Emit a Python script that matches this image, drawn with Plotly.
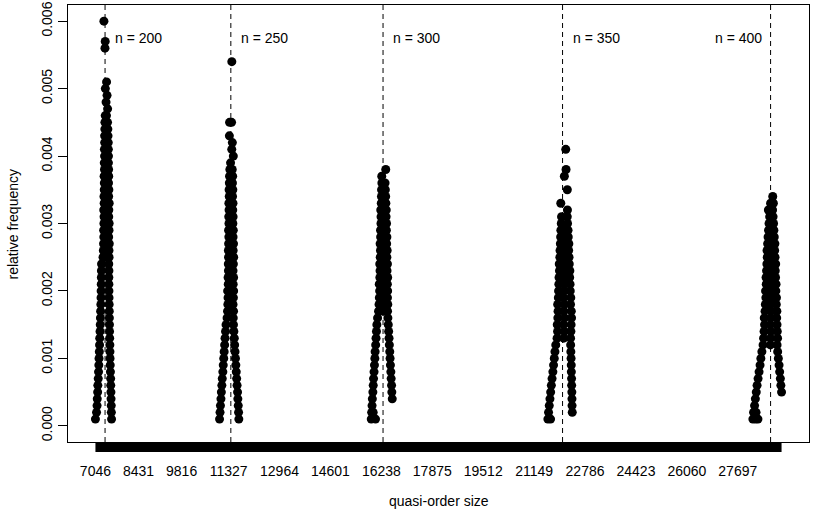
import plotly.graph_objects as go

# ---------------- data ----------------
N_SAMPLES = 10000  # relative frequency = count / N_SAMPLES

x_tick_labels = [7046, 8431, 9816, 11327, 12964, 14601, 16238, 17875,
                 19512, 21149, 22786, 24423, 26060, 27697]
y_tick_vals = [0.000, 0.001, 0.002, 0.003, 0.004, 0.005, 0.006]
y_tick_text = ["0.000", "0.001", "0.002", "0.003", "0.004", "0.005", "0.006"]

n_values = [200, 250, 300, 350, 400]
n_line_sizes = [7355, 11399, 16292, 22063, 28751]
label_freq = 0.00575

# ---- n = 200 ----
c200 = [1, 2, 3, 4, 5, 6, 7, 8, 9, 10, 11, 12, 13, 14, 15, 16, 17, 18, 19, 20,
        21, 22, 23, 24, 25, 26, 27, 28, 29, 30, 31, 32, 33, 34, 35, 36, 37, 38,
        39, 40, 41, 42, 43, 44, 45, 46]
l200 = [7046, 7081, 7098, 7104, 7117, 7123, 7136, 7146, 7155, 7162,
        7171, 7178, 7184, 7194, 7201, 7207, 7213, 7220, 7226, 7229,
        7233, 7236, 7238, 7242, 7290, 7300, 7307, 7316, 7310, 7319,
        7323, 7313, 7326, 7321, 7329, 7332, 7325, 7336, 7330, 7339,
        7334, 7342, 7341, 7348, 7350, 7361]
r200 = [7564, 7557, 7554, 7548, 7544, 7538, 7535, 7528, 7522, 7516,
        7512, 7509, 7503, 7499, 7496, 7493, 7490, 7487, 7483, 7480,
        7478, 7476, 7479, 7474, 7484, 7481, 7490, 7471, 7482, 7486,
        7473, 7475, 7488, 7470, 7477, 7466, 7472, 7469, 7463, 7465,
        7461, 7458, 7451, 7445, 7435, 7400]
m200 = [None] * 46
xs200 = [7437, 7387, 7419, 7364, 7403, 7352, 7360, 7318]
xc200 = [47, 48, 49, 50, 51, 56, 57, 60]

# ---- n = 250 ----
c250 = [1, 2, 3, 4, 5, 6, 7, 8, 9, 10, 11, 12, 13, 14, 15, 16, 17, 18, 19, 20,
        21, 22, 23, 24, 25, 26, 27, 28, 29, 30, 31, 32, 33, 34, 35, 36, 37, 38]
l250 = [11036, 11052, 11065, 11081, 11094, 11110, 11123, 11142, 11155, 11171,
        11184, 11200, 11213, 11229, 11245, 11277, 11293, 11303, 11309, 11296,
        11316, 11311, 11322, 11318, 11325, 11320, 11328, 11335, 11326, 11338,
        11332, 11341, 11336, 11348, 11343, 11351, 11357, 11367]
r250 = [11656, 11647, 11637, 11624, 11615, 11599, 11586, 11573, 11560, 11547,
        11534, 11521, 11509, 11496, 11483, 11476, 11486, 11470, 11481, 11489,
        11474, 11487, 11469, 11480, 11490, 11473, 11484, 11471, 11477, 11464,
        11472, 11460, 11468, 11454, 11463, 11451, 11457, 11444]
m250 = [None] * 38
xs250 = [11390, 11479, 11428, 11447, 11352, 11358, 11422, 11430]
xc250 = [39, 40, 41, 42, 43, 45, 45, 54]

# ---- n = 300 ----
c300 = [1, 2, 3, 4, 5, 6, 7, 8, 9, 10, 11, 12, 13, 14, 15, 16, 17, 18, 19, 20,
        21, 22, 23, 24, 25, 26, 27, 28, 29, 30, 31, 32, 33, 34, 35, 36]
l300 = [15913, 15926, 15939, 15948, 15965, 15977, 15987, 16003, 16016, 16029,
        16038, 16055, 16067, 16080, 16093, 16116, 16148, 16164, 16173, 16183,
        16170, 16190, 16196, 16186, 16202, 16209, 16198, 16215, 16211, 16225,
        16228, 16218, 16235, 16241, 16244, 16254]
r300 = [None, None, None, 16588, 16575, 16566, 16553, 16543, 16530, 16518,
        16508, 16495, 16485, 16472, 16460, 16447, 16437, 16444, 16434, 16440,
        16431, 16441, 16421, 16433, 16415, 16424, 16408, 16416, 16399, 16405,
        16389, 16395, 16382, 16376, 16366, 16357]
m300 = [16050, 15975, None, None, None, None, None, None, None, None,
        None, None, None, None, None, None, 16290, 16300, 16285, 16305,
        16295, 16310, 16300, 16315, 16305, 16318, 16301, 16312, None, None,
        None, None, None, None, None, None]
xs300 = [16251, 16379]
xc300 = [37, 38]

# ---- n = 350 ----
c350 = [1, 2, 3, 4, 5, 6, 7, 8, 9, 10, 11, 12, 13, 14, 15, 16, 17, 18, 19, 20,
        21, 22, 23, 24, 25, 26, 27, 28, 29, 30, 31]
l350 = [21591, 21613, 21636, 21658, 21681, 21703, 21726, 21752, 21774, 21797,
        21819, 21845, 21887, 21903, 21893, 21912, 21919, 21906, 21928, 21935,
        21944, 21951, 21964, 21957, 21977, 21983, 21993, 22002, 22009, 22022,
        22031]
r350 = [None, 22375, 22369, 22366, 22362, 22356, 22353, 22346, 22343, 22337,
        22330, 22324, 22321, 22331, 22338, 22352, 22344, 22319, 22328, 22311,
        22305, 22292, 22298, 22279, 22272, 22259, 22266, 22247, 22240, 22224,
        22214]
m350 = [21678, None, None, None, None, None, None, None, None, None,
        None, None, 22100, 22120, 22095, 22130, 22105, 22118, 22100, 22125,
        22110, 22122, 22105, 22118, 22112, 22125, 22108, 22120, 22115, None,
        None]
xs350 = [22220, 22006, 22216, 22121, 22176, 22166]
xc350 = [32, 33, 35, 37, 38, 41]

# ---- n = 400 ----
c400 = [1, 2, 3, 4, 5, 6, 7, 8, 9, 10, 11, 12, 13, 14, 15, 16, 17, 18, 19, 20,
        21, 22, 23, 24, 25, 26, 27, 28, 29, 30, 31, 32, 33]
l400 = [28182, 28204, 28236, 28262, 28291, 28317, 28349, 28381, 28413, 28439,
        28471, 28509, 28526, 28542, 28558, 28548, 28574, 28583, 28600, 28590,
        28612, 28606, 28622, 28632, 28644, 28638, 28657, 28670, 28686, 28702,
        28722, 28680, 28751]
r400 = [None, None, None, None, 29104, 29082, 29066, 29043, 29024, 29001,
        28979, 28960, 28976, 28966, 28958, 28947, 28953, 28934, 28940, 28921,
        28927, 28911, 28902, 28915, 28895, 28882, 28889, 28870, 28857, 28847,
        28831, 28815, 28841]
m400 = [28268, 28284, None, None, None, None, None, None, None, None,
        None, 28745, 28750, 28760, 28747, 28755, 28765, 28752, 28770, 28757,
        28768, 28753, 28764, 28771, 28758, 28766, 28761, 28772, None, None,
        None, None, None]
xs400 = [28345, 28821]
xc400 = [1, 34]

clusters = [
    (c200, l200, r200, m200, xs200, xc200),
    (c250, l250, r250, m250, xs250, xc250),
    (c300, l300, r300, m300, xs300, xc300),
    (c350, l350, r350, m350, xs350, xc350),
    (c400, l400, r400, m400, xs400, xc400),
]

# ---------------- figure ----------------
FONT = "Liberation Sans, Arial, Helvetica, sans-serif"
fig = go.Figure()

all_x = []
all_y = []
for n, (cnt, left, right, mid, exs, exc) in zip(n_values, clusters):
    xs, ys = [], []
    for c, a, b, m in zip(cnt, left, right, mid):
        for v in (a, b, m):
            if v is not None:
                xs.append(v)
                ys.append(c / N_SAMPLES)
    for v, c in zip(exs, exc):
        xs.append(v)
        ys.append(c / N_SAMPLES)
    all_x += xs
    all_y += ys
    fig.add_trace(go.Scatter(
        x=xs, y=ys, mode="markers", name=f"n = {n}",
        marker=dict(color="black", size=9, line=dict(width=0)),
        showlegend=False, hoverinfo="x+y"))

xmin, xmax = min(all_x), max(all_x)
xpad = 0.04 * (xmax - xmin)
ylo, yhi = 0.0, max(y_tick_vals)
ypad = 0.04 * (yhi - ylo)

PLOT_H = 513 - 5 - 71

shapes = []
# dense tick marks of the x axis (one per size) appear as a solid bar
shapes.append(dict(type="rect", xref="x", yref="paper",
                   x0=xmin, x1=xmax, y0=0.0, y1=-10.0 / PLOT_H,
                   fillcolor="black", line=dict(width=0), layer="above"))
for s in n_line_sizes:
    shapes.append(dict(type="line", xref="x", yref="paper",
                       x0=s, x1=s, y0=0, y1=1,
                       line=dict(color="black", width=1, dash="5px,4px"),
                       layer="below"))

annotations = []
for i, (n, s) in enumerate(zip(n_values, n_line_sizes)):
    last = i == len(n_values) - 1
    annotations.append(dict(
        x=s, y=label_freq, xref="x", yref="y", text=f"n = {n}",
        showarrow=False, xanchor="right" if last else "left",
        yanchor="middle", xshift=-7 if last else 8,
        font=dict(family=FONT, size=14, color="black")))
annotations.append(dict(
    x=0.5, y=-(501 - 442) / PLOT_H, xref="paper", yref="paper",
    text="quasi-order size", showarrow=False,
    xanchor="center", yanchor="middle",
    font=dict(family=FONT, size=14, color="black")))
annotations.append(dict(
    x=-(68 - 12) / 741, y=0.5, xref="paper", yref="paper",
    text="relative frequency", showarrow=False, textangle=-90,
    xanchor="center", yanchor="middle",
    font=dict(family=FONT, size=14, color="black")))

fig.update_layout(
    width=816, height=513,
    margin=dict(l=68, r=7, t=5, b=71, autoexpand=False),
    paper_bgcolor="white", plot_bgcolor="white",
    font=dict(family=FONT, size=14, color="black"),
    shapes=shapes, annotations=annotations,
    showlegend=False,
    xaxis=dict(
        range=[xmin - xpad, xmax + xpad], automargin=False,
        tickvals=x_tick_labels,
        ticktext=[str(v) for v in x_tick_labels],
        ticks="outside", ticklen=16, tickcolor="rgba(0,0,0,0)",
        showline=True, mirror=True, linecolor="black", linewidth=1,
        showgrid=False, zeroline=False,
        tickfont=dict(family=FONT, size=14, color="black")),
    yaxis=dict(
        range=[ylo - ypad, yhi + ypad], automargin=False,
        tickvals=y_tick_vals, ticktext=y_tick_text,
        ticks="outside", ticklen=9, tickcolor="black", tickwidth=1,
        tickangle=-90,
        showline=True, mirror=True, linecolor="black", linewidth=1,
        showgrid=False, zeroline=False,
        tickfont=dict(family=FONT, size=14, color="black")),
)

# the page has a default 8px body margin; remove it so the figure fills the window
fig.write_html(
    "out.html",
    config={"displayModeBar": False},
    post_script="document.body.style.margin='0';document.body.style.overflow='hidden';",
)
